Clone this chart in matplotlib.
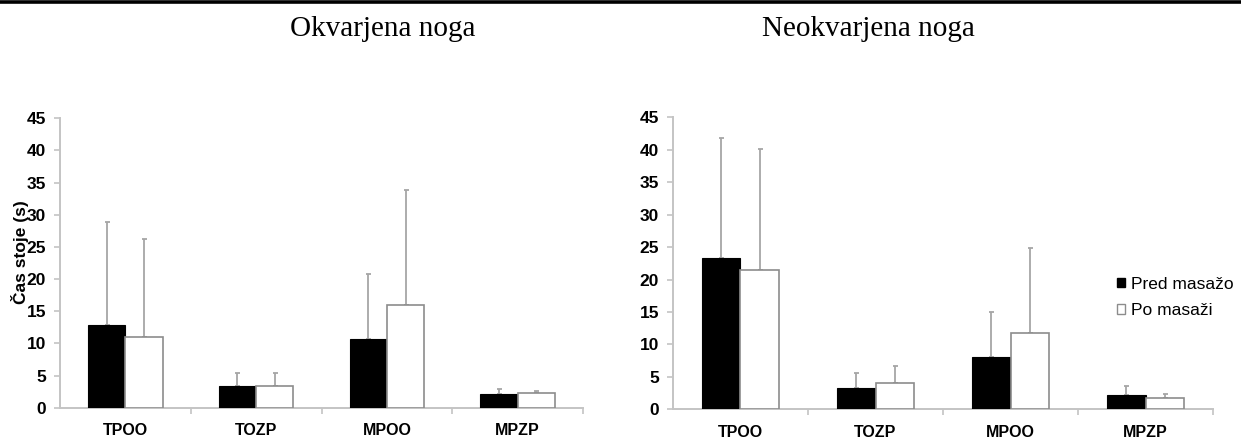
import numpy as np
import matplotlib.pyplot as plt
from matplotlib.lines import Line2D
from matplotlib.patches import Patch

categories = ['TPOO', 'TOZP', 'MPOO', 'MPZP']
series_names = ['Pred masažo', 'Po masaži']

# Okvarjena noga
left_pred = [12.9, 3.3, 10.7, 2.15]
left_pred_sd = [15.9, 2.1, 10.1, 0.7]
left_po = [11.0, 3.45, 15.95, 2.35]
left_po_sd = [15.2, 2.0, 17.85, 0.3]

# Neokvarjena noga
right_pred = [23.25, 3.3, 8.1, 2.2]
right_pred_sd = [18.6, 2.25, 6.9, 1.45]
right_po = [21.45, 4.1, 11.8, 1.7]
right_po_sd = [18.6, 2.5, 13.0, 0.65]

titles = ['Okvarjena noga', 'Neokvarjena noga']
ylabel = 'Čas stoje (s)'

W, H = 1241, 438
fig = plt.figure(figsize=(W / 100, H / 100), dpi=100)

# thick rule across the top of the page
fig.add_artist(Line2D([0, 1], [1 - 1.5 / H, 1 - 1.5 / H], color='black', lw=2.6,
                      transform=fig.transFigure))

ax1 = fig.add_axes([60 / W, 1 - 407.7 / H, 523 / W, 289.4 / H])
ax2 = fig.add_axes([673 / W, 1 - 409.3 / H, 540 / W, 292.0 / H])

axis_grey = '#c4c4c4'
err_grey = '#a6a6a6'
bw = 1 / 3.5  # Excel-style gap width of 150 %

def draw(ax, pred, pred_sd, po, po_sd):
    x = np.arange(len(categories)) + 0.5
    ax.bar(x - bw / 2, pred, bw, color='black', edgecolor='black', lw=0.8, zorder=3)
    ax.bar(x + bw / 2, po, bw, color='white', edgecolor='#8c8c8c', lw=1.2, zorder=3)
    for xs, ys, es in [(x - bw / 2, pred, pred_sd), (x + bw / 2, po, po_sd)]:
        ax.errorbar(xs, ys, yerr=[np.zeros(len(es)), es], fmt='none', ecolor=err_grey,
                    elinewidth=1.3, capsize=1.8, capthick=1.3, zorder=2)
    ax.set_xlim(0, len(categories))
    ax.set_ylim(0, 45)
    ax.set_yticks(np.arange(0, 46, 5))
    ax.set_xticks(x)
    ax.set_xticklabels(categories, fontsize=11.5, fontweight='bold', family='Liberation Sans')
    ax.set_xticks(np.arange(1, len(categories) + 1), minor=True)
    ax.tick_params(axis='x', which='major', length=0, pad=11)
    ax.tick_params(axis='x', which='minor', length=4, width=1.2, color=axis_grey, direction='out')
    ax.tick_params(axis='y', length=4, width=1.2, color=axis_grey, pad=6)
    for lab in ax.get_yticklabels():
        lab.set_fontsize(12.5)
        lab.set_fontweight('bold')
        lab.set_family('Liberation Sans')
    for s in ['top', 'right']:
        ax.spines[s].set_visible(False)
    for s in ['left', 'bottom']:
        ax.spines[s].set_color(axis_grey)
        ax.spines[s].set_linewidth(1.4)

draw(ax1, left_pred, left_pred_sd, left_po, left_po_sd)
draw(ax2, right_pred, right_pred_sd, right_po, right_po_sd)

fig.text(20 / W, 1 - 252 / H, ylabel, rotation=90, ha='center', va='center',
         fontsize=12.5, fontweight='bold', family='Liberation Sans')

fig.text(290 / W, 1 - 36 / H, titles[0], ha='left', va='baseline',
         fontsize=21, family='Liberation Serif')
fig.text(762 / W, 1 - 36 / H, titles[1], ha='left', va='baseline',
         fontsize=21, family='Liberation Serif')

handles = [Patch(facecolor='black', edgecolor='black', label=series_names[0]),
           Patch(facecolor='white', edgecolor='#8c8c8c', label=series_names[1])]
ax2.legend(handles=handles, loc='upper left', bbox_to_anchor=(1108 / W, 1 - 268 / H),
           bbox_transform=fig.transFigure, frameon=False, borderpad=0,
           handlelength=0.5, handleheight=0.5, handletextpad=0.3, labelspacing=0.65,
           prop={'family': 'Liberation Sans', 'size': 12.5})

fig.savefig('out.png', dpi=100)
